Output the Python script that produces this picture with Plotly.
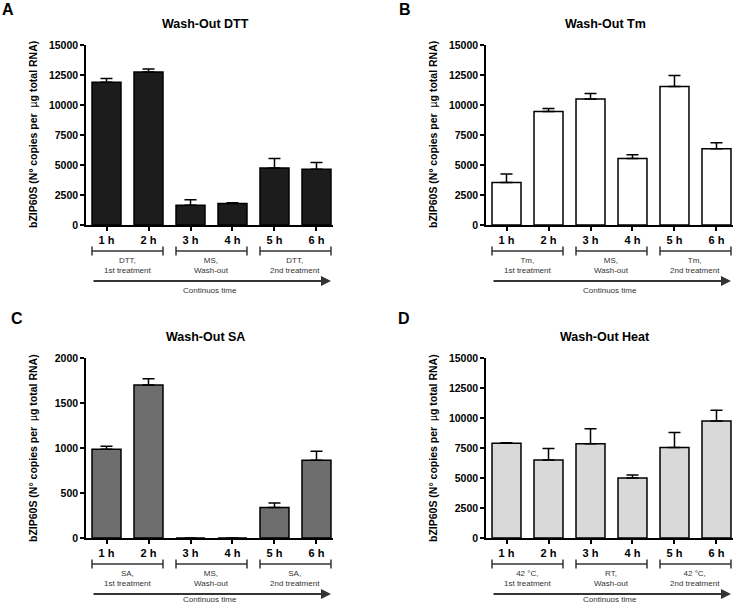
import plotly.graph_objects as go

# ---- data ----
hours = ["1 h", "2 h", "3 h", "4 h", "5 h", "6 h"]

dtt_mean = [11900, 12750, 1650, 1800, 4750, 4650]
dtt_err = [300, 250, 450, 50, 800, 550]

tm_mean = [3550, 9450, 10500, 5550, 11550, 6350]
tm_err = [700, 250, 450, 300, 900, 500]

sa_mean = [985, 1700, 0, 0, 340, 865]
sa_err = [35, 70, 0, 0, 50, 100]

heat_mean = [7900, 6500, 7850, 5000, 7550, 9750]
heat_err = [30, 950, 1250, 250, 1250, 900]

ticks_15000 = [0, 2500, 5000, 7500, 10000, 12500, 15000]
ticks_2000 = [0, 500, 1000, 1500, 2000]

groups_dtt = ["DTT,<br>1st treatment", "MS,<br>Wash-out", "DTT,<br>2nd treatment"]
groups_tm = ["Tm,<br>1st treatment", "MS,<br>Wash-out", "Tm,<br>2nd treatment"]
groups_sa = ["SA,<br>1st treatment", "MS,<br>Wash-out", "SA,<br>2nd treatment"]
groups_heat = ["42 °C,<br>1st treatment", "RT,<br>Wash-out", "42 °C,<br>2nd treatment"]

W, H = 739, 606
FONT = "Liberation Sans, Arial, Helvetica, sans-serif"


def fx(v):
    return v / W


def fy(v):
    return 1 - v / H


panels = [
    dict(letter="A", pos=(8, 10), title="Wash-Out DTT", mean=dtt_mean, err=dtt_err, color="#1c1c1c",
         ticks=ticks_15000, groups=groups_dtt, ylab="Nº", dx=0, dy=0),
    dict(letter="B", pos=(405, 10), title="Wash-Out Tm", mean=tm_mean, err=tm_err, color="#ffffff",
         ticks=ticks_15000, groups=groups_tm, ylab="Nº", dx=400, dy=0),
    dict(letter="C", pos=(17, 318), title="Wash-Out SA", mean=sa_mean, err=sa_err, color="#6e6e6e",
         ticks=ticks_2000, groups=groups_sa, ylab="N°", dx=0, dy=313),
    dict(letter="D", pos=(404, 318), title="Wash-Out Heat", mean=heat_mean, err=heat_err, color="#d9d9d9",
         ticks=ticks_15000, groups=groups_heat, ylab="N°", dx=400, dy=313),
]

fig = go.Figure()
annotations = []
shapes = []
line_col = "#333333"


def note(text, x, y, size, color="black", xref="paper", **kw):
    annotations.append(dict(text=text, x=x, y=y, xref=xref, yref="paper", showarrow=False,
                            xanchor="center", yanchor="middle",
                            font=dict(family=FONT, size=size, color=color), **kw))


for i, p in enumerate(panels, start=1):
    sx = "" if i == 1 else str(i)
    dx, dy = p["dx"], p["dy"]
    x0, x1 = 86 + dx, 333 + dx
    ytop, y0 = 45 + dy, 225 + dy

    fig.add_trace(go.Bar(
        x=hours, y=p["mean"], xaxis="x" + sx, yaxis="y" + sx,
        marker=dict(color=p["color"], line=dict(color="black", width=1.5)),
        error_y=dict(type="data", array=p["err"], arrayminus=[0] * 6, symmetric=False,
                     color="black", thickness=1.5, width=6),
        showlegend=False,
    ))

    fig.update_layout({
        "xaxis" + sx: dict(
            domain=[fx(x0), fx(x1)], anchor="y" + sx, type="category", automargin=False,
            range=[-0.488, 5.393], showline=True, linecolor="black", linewidth=1.5,
            ticks="outside", ticklen=4, tickwidth=1.5, tickcolor="black",
            tickfont=dict(family=FONT, size=11, color="black", weight="bold"),
            showgrid=False, zeroline=False, fixedrange=True,
        ),
        "yaxis" + sx: dict(
            domain=[fy(y0), fy(ytop)], anchor="x" + sx, automargin=False,
            range=[0, p["ticks"][-1]], tickvals=p["ticks"], ticktext=[str(t) for t in p["ticks"]],
            showline=True, linecolor="black", linewidth=1.5,
            ticks="outside", ticklen=4, tickwidth=1.5, tickcolor="black",
            tickfont=dict(family=FONT, size=10.5, color="black", weight="bold"),
            showgrid=False, zeroline=False, fixedrange=True,
        ),
    })

    # panel letter and title
    note(f"<b>{p['letter']}</b>", fx(p["pos"][0]), fy(p["pos"][1]), 16)
    note(f"<b>{p['title']}</b>", fx(205 + dx), fy(24 + dy), 12.5)
    # y-axis title
    note(f"<b>bZIP60S ({p['ylab']} copies per</b>  µ<b>g total RNA)</b>",
         fx(33 + dx), fy((ytop + y0) / 2), 10.5, textangle=-90)

    # group brackets
    by = 251 + dy
    for g, lab in enumerate(p["groups"]):
        a, b = 2 * g - 0.345, 2 * g + 1.345
        shapes.append(dict(type="line", xref="x" + sx, yref="paper", x0=a, x1=b,
                           y0=fy(by), y1=fy(by), line=dict(color=line_col, width=1.5)))
        for e in (a, b):
            shapes.append(dict(type="line", xref="x" + sx, yref="paper", x0=e, x1=e,
                               y0=fy(by - 4.5), y1=fy(by + 4.5), line=dict(color=line_col, width=1.5)))
        note(lab, 2 * g + 0.5, fy(265 + dy), 8, color="#333333", xref="x" + sx, align="center")

    # time arrow
    annotations.append(dict(x=fx(331 + dx), y=fy(281 + dy), ax=-(331 - 92), ay=0,
                            xref="paper", yref="paper", axref="pixel", ayref="pixel",
                            text="", showarrow=True, arrowhead=2, arrowsize=1, arrowwidth=2,
                            arrowcolor=line_col))
    note("Continuos time", fx(210 + dx), fy(min(290 + dy, 599)), 8, color="#333333")

fig.update_layout(
    width=W, height=H, margin=dict(l=0, r=0, t=0, b=0, autoexpand=False),
    paper_bgcolor="white", plot_bgcolor="white",
    bargap=0.31, annotations=annotations, shapes=shapes,
    font=dict(family=FONT, color="black"),
)

# page body has a default 8px margin; drop it so the figure sits at the window origin
fig.write_html("out.html", config={"displayModeBar": False},
               post_script="document.body.style.margin='0';")
